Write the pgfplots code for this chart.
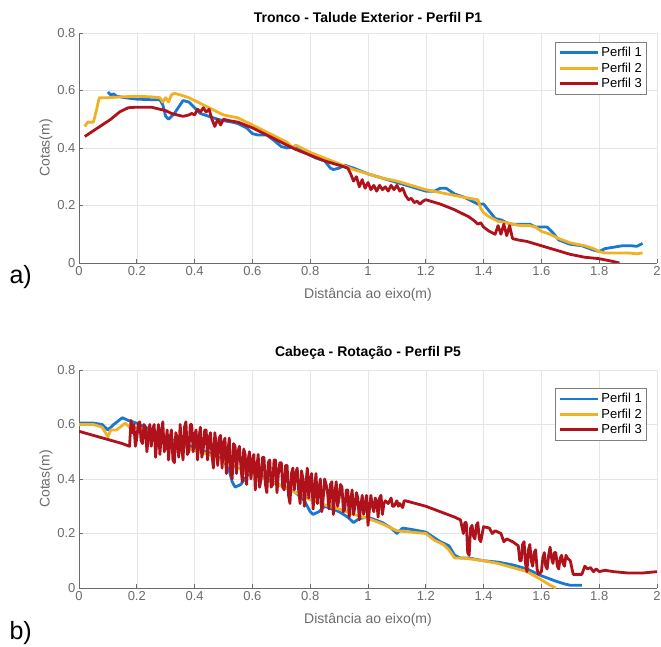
\documentclass[border=0pt]{standalone}
\usepackage{fontspec}
\setmainfont{Liberation Sans}
\usepackage{pgfplots}
\pgfplotsset{compat=1.18}

\definecolor{mblue}{rgb}{0.10,0.47,0.82}
\definecolor{myellow}{rgb}{0.94,0.70,0.14}
\definecolor{mred}{rgb}{0.69,0.07,0.11}
\definecolor{axgray}{gray}{0.42}

\pgfplotsset{
  perfil/.style={
    scale only axis,
    width=578pt,
    xmin=0, xmax=2, ymin=0, ymax=0.8,
    xtick={0,0.2,...,2}, ytick={0,0.2,...,0.8},
    xticklabels={0,0.2,0.4,0.6,0.8,1,1.2,1.4,1.6,1.8,2},
    yticklabels={0,0.2,0.4,0.6,0.8},
    axis x line*=bottom, axis y line*=left,
    axis line style={axgray, line width=0.7pt},
    tick style={axgray, line width=0.7pt},
    tick align=inside, major tick length=4pt,
    grid=major, grid style={black!10, line width=0.6pt},
    ticklabel style={font=\fontsize{13}{15}\selectfont, text=axgray},
    /pgf/number format/assume math mode=true,
    label style={font=\fontsize{14}{16}\selectfont, text=axgray},
    xlabel={Distância ao eixo(m)}, ylabel={Cotas(m)},
    xlabel style={yshift=-6pt}, ylabel style={yshift=-2pt},
    title style={font=\bfseries\fontsize{14}{16}\selectfont, yshift=1pt},
    legend cell align=left,
    legend style={font=\fontsize{13}{15}\selectfont, draw=black!50, line width=0.7pt,
      inner sep=3pt, row sep=0.5pt},
    legend image post style={line width=2.8pt},
    legend image code/.code={\draw[#1] (0pt,0pt) -- (38pt,0pt);},
    every axis plot/.append style={line width=2.8pt, line join=round},
  }
}

\begin{document}
\begin{tikzpicture}[x=1pt,y=1pt]
\useasboundingbox (0,0) rectangle (661,646);

\begin{axis}[perfil, at={(79pt,383pt)}, anchor=origin, height=230pt,
  title={Tronco - Talude Exterior - Perfil P1},
  legend style={at={(0.983,0.961)}, anchor=north east}]
\addplot[mblue] coordinates {
(0.10,0.595) (0.11,0.585) (0.12,0.588) (0.13,0.58) (0.16,0.575) (0.20,0.57)
(0.25,0.568) (0.28,0.568) (0.29,0.55) (0.30,0.51) (0.31,0.50) (0.33,0.52)
(0.35,0.55) (0.36,0.565) (0.38,0.56) (0.40,0.54) (0.42,0.52) (0.45,0.51)
(0.48,0.50) (0.50,0.495) (0.53,0.49) (0.55,0.485) (0.58,0.47) (0.60,0.45)
(0.62,0.445) (0.65,0.445) (0.67,0.43) (0.70,0.405) (0.72,0.40) (0.75,0.405)
(0.78,0.39) (0.80,0.375) (0.82,0.365) (0.85,0.355) (0.87,0.33) (0.88,0.325)
(0.90,0.33) (0.92,0.34) (0.95,0.33) (1.00,0.31) (1.05,0.295) (1.10,0.28)
(1.15,0.265) (1.20,0.25) (1.23,0.25) (1.25,0.26) (1.27,0.26) (1.30,0.24)
(1.33,0.23) (1.36,0.215) (1.38,0.205) (1.40,0.205) (1.42,0.18) (1.44,0.155)
(1.46,0.15) (1.48,0.14) (1.50,0.135) (1.53,0.135) (1.56,0.135) (1.58,0.125)
(1.60,0.125) (1.62,0.125) (1.64,0.105) (1.66,0.08) (1.70,0.065) (1.74,0.06)
(1.78,0.045) (1.80,0.04) (1.82,0.05) (1.85,0.055) (1.88,0.06) (1.91,0.06)
(1.93,0.058) (1.95,0.068)
};
\addlegendentry{Perfil 1}
\addplot[myellow] coordinates {
(0.02,0.475) (0.03,0.49) (0.05,0.49) (0.06,0.53) (0.07,0.575) (0.10,0.575)
(0.15,0.578) (0.20,0.58) (0.25,0.578) (0.28,0.575) (0.29,0.56) (0.30,0.575)
(0.31,0.56) (0.32,0.585) (0.33,0.59) (0.35,0.585) (0.38,0.575) (0.40,0.565)
(0.45,0.54) (0.50,0.515) (0.55,0.505) (0.60,0.48) (0.65,0.455) (0.70,0.43)
(0.72,0.42) (0.74,0.40) (0.75,0.41) (0.80,0.385) (0.85,0.365) (0.90,0.345)
(0.95,0.325) (1.00,0.31) (1.05,0.295) (1.10,0.285) (1.15,0.27) (1.20,0.255)
(1.25,0.245) (1.30,0.235) (1.35,0.225) (1.38,0.22) (1.39,0.19) (1.40,0.175)
(1.42,0.16) (1.45,0.145) (1.48,0.14) (1.50,0.135) (1.53,0.13) (1.56,0.13)
(1.58,0.125) (1.60,0.11) (1.63,0.10) (1.66,0.085) (1.70,0.07) (1.75,0.06)
(1.78,0.05) (1.80,0.04) (1.82,0.035) (1.85,0.035) (1.88,0.035) (1.90,0.035)
(1.93,0.032) (1.95,0.035)
};
\addlegendentry{Perfil 2}
\addplot[mred] coordinates {
(0.02,0.44) (0.05,0.46) (0.08,0.48) (0.11,0.50) (0.14,0.525) (0.17,0.54)
(0.20,0.542) (0.25,0.542) (0.30,0.53) (0.32,0.52) (0.34,0.515) (0.36,0.51)
(0.38,0.515) (0.39,0.52) (0.40,0.515) (0.41,0.535) (0.42,0.525) (0.43,0.54)
(0.44,0.525) (0.45,0.535) (0.46,0.50) (0.47,0.475) (0.48,0.50) (0.49,0.48)
(0.50,0.50) (0.52,0.495) (0.55,0.49) (0.60,0.47) (0.65,0.445) (0.70,0.42)
(0.75,0.395) (0.80,0.375) (0.85,0.355) (0.90,0.34) (0.93,0.33) (0.94,0.31)
(0.95,0.285) (0.96,0.30) (0.97,0.265) (0.98,0.29) (0.99,0.26) (1.00,0.28)
(1.01,0.255) (1.02,0.27) (1.03,0.25) (1.04,0.27) (1.05,0.255) (1.06,0.265)
(1.07,0.25) (1.08,0.27) (1.09,0.255) (1.10,0.27) (1.11,0.25) (1.12,0.26)
(1.13,0.235) (1.14,0.22) (1.15,0.225) (1.16,0.21) (1.17,0.215) (1.18,0.205)
(1.19,0.215) (1.20,0.22) (1.25,0.205) (1.30,0.185) (1.35,0.16) (1.37,0.145)
(1.38,0.135) (1.39,0.14) (1.40,0.125) (1.42,0.11) (1.44,0.10) (1.45,0.13)
(1.46,0.10) (1.47,0.135) (1.48,0.095) (1.49,0.13) (1.50,0.085) (1.52,0.08)
(1.55,0.075) (1.60,0.06) (1.65,0.045) (1.70,0.03) (1.75,0.02) (1.80,0.015)
(1.85,0.005) (1.87,0.0)
};
\addlegendentry{Perfil 3}
\end{axis}

\begin{axis}[perfil, at={(79pt,58pt)}, anchor=origin, height=218pt,
  title={Cabeça - Rotação - Perfil P5},
  legend style={at={(0.983,0.917)}, anchor=north east}]
\addplot[mblue] coordinates {
(0,0.605) (0.05,0.605) (0.08,0.60) (0.10,0.58) (0.12,0.60) (0.15,0.625)
(0.17,0.615) (0.20,0.605) (0.25,0.58) (0.30,0.555) (0.35,0.53) (0.40,0.515)
(0.45,0.495) (0.50,0.47) (0.52,0.43) (0.53,0.39) (0.54,0.37) (0.56,0.38)
(0.58,0.41) (0.60,0.43) (0.65,0.40) (0.70,0.375) (0.75,0.35) (0.78,0.32)
(0.80,0.28) (0.81,0.27) (0.83,0.28) (0.85,0.30) (0.90,0.28) (0.93,0.26)
(0.95,0.24) (0.97,0.255) (1.00,0.26) (1.05,0.24) (1.08,0.22) (1.10,0.20)
(1.12,0.22) (1.15,0.215) (1.20,0.205) (1.25,0.17) (1.28,0.155) (1.30,0.12)
(1.32,0.11) (1.35,0.11) (1.40,0.10) (1.45,0.095) (1.50,0.085) (1.55,0.07)
(1.60,0.045) (1.65,0.025) (1.68,0.015) (1.70,0.01) (1.74,0.01)
};
\addlegendentry{Perfil 1}
\addplot[myellow] coordinates {
(0,0.60) (0.05,0.60) (0.08,0.59) (0.10,0.555) (0.11,0.58) (0.13,0.58)
(0.16,0.605) (0.18,0.585) (0.20,0.59) (0.25,0.57) (0.30,0.545) (0.35,0.525)
(0.40,0.505) (0.45,0.49) (0.50,0.465) (0.55,0.44) (0.60,0.42) (0.65,0.395)
(0.70,0.375) (0.75,0.35) (0.80,0.325) (0.85,0.305) (0.90,0.29) (0.95,0.27)
(1.00,0.255) (1.05,0.235) (1.10,0.21) (1.15,0.205) (1.20,0.20) (1.23,0.175)
(1.26,0.16) (1.28,0.14) (1.30,0.11) (1.33,0.11) (1.40,0.10) (1.45,0.09)
(1.50,0.075) (1.55,0.06) (1.60,0.03) (1.63,0.01) (1.65,0.0)
};
\addlegendentry{Perfil 2}
\addplot[mred] coordinates {
(0,0.575) (0.05,0.56) (0.10,0.545) (0.15,0.53) (0.175,0.52) (0.18,0.615)
(0.185,0.57) (0.19,0.60) (0.195,0.52) (0.20,0.55) (0.205,0.60) (0.21,0.61)
(0.215,0.54) (0.22,0.53) (0.225,0.60) (0.23,0.59) (0.235,0.50) (0.24,0.56)
(0.245,0.60) (0.25,0.52) (0.255,0.58) (0.26,0.60) (0.265,0.48) (0.27,0.55)
(0.275,0.60) (0.28,0.49) (0.285,0.57) (0.29,0.61) (0.295,0.50) (0.30,0.52)
(0.305,0.58) (0.31,0.47) (0.315,0.55) (0.32,0.58) (0.325,0.47) (0.33,0.46)
(0.335,0.57) (0.34,0.55) (0.345,0.48) (0.35,0.60) (0.355,0.52) (0.36,0.47)
(0.365,0.59) (0.37,0.61) (0.375,0.49) (0.38,0.50) (0.385,0.60) (0.39,0.60)
(0.395,0.50) (0.40,0.56) (0.405,0.58) (0.41,0.47) (0.415,0.55) (0.42,0.59)
(0.425,0.48) (0.43,0.51) (0.435,0.58) (0.44,0.58) (0.445,0.47) (0.45,0.55)
(0.455,0.57) (0.46,0.49) (0.465,0.44) (0.47,0.57) (0.475,0.52) (0.48,0.45)
(0.485,0.55) (0.49,0.56) (0.495,0.44) (0.50,0.53) (0.505,0.55) (0.51,0.42)
(0.515,0.50) (0.52,0.55) (0.525,0.43) (0.53,0.40) (0.535,0.53) (0.54,0.52)
(0.545,0.42) (0.55,0.50) (0.555,0.52) (0.56,0.45) (0.565,0.39) (0.57,0.51)
(0.575,0.49) (0.58,0.38) (0.585,0.47) (0.59,0.50) (0.595,0.40) (0.60,0.47)
(0.605,0.49) (0.61,0.36) (0.615,0.44) (0.62,0.49) (0.625,0.37) (0.63,0.40)
(0.635,0.48) (0.64,0.48) (0.645,0.38) (0.65,0.35) (0.655,0.46) (0.66,0.47)
(0.665,0.37) (0.67,0.38) (0.675,0.47) (0.68,0.47) (0.685,0.35) (0.69,0.42)
(0.695,0.46) (0.70,0.46) (0.705,0.37) (0.71,0.36) (0.715,0.45) (0.72,0.45)
(0.725,0.34) (0.73,0.31) (0.735,0.42) (0.74,0.44) (0.745,0.36) (0.75,0.42)
(0.755,0.44) (0.76,0.36) (0.765,0.31) (0.77,0.43) (0.775,0.40) (0.78,0.30)
(0.785,0.38) (0.79,0.44) (0.795,0.33) (0.80,0.40) (0.805,0.42) (0.81,0.29)
(0.815,0.36) (0.82,0.42) (0.825,0.31) (0.83,0.36) (0.835,0.40) (0.84,0.28)
(0.845,0.33) (0.85,0.40) (0.855,0.38) (0.86,0.35) (0.865,0.29) (0.87,0.38)
(0.875,0.39) (0.88,0.27) (0.885,0.34) (0.89,0.39) (0.895,0.30) (0.90,0.33)
(0.905,0.38) (0.91,0.37) (0.915,0.28) (0.92,0.29) (0.925,0.36) (0.93,0.36)
(0.935,0.26) (0.94,0.32) (0.945,0.36) (0.95,0.27) (0.955,0.30) (0.96,0.35)
(0.965,0.33) (0.97,0.25) (0.975,0.30) (0.98,0.34) (0.985,0.27) (0.99,0.31)
(0.995,0.34) (1.00,0.23) (1.005,0.29) (1.01,0.34) (1.015,0.30) (1.02,0.28)
(1.025,0.33) (1.03,0.32) (1.035,0.26) (1.04,0.33) (1.045,0.34) (1.05,0.27)
(1.055,0.31) (1.06,0.32) (1.07,0.31) (1.08,0.33) (1.085,0.30) (1.09,0.30)
(1.10,0.32) (1.105,0.30) (1.11,0.31) (1.12,0.295) (1.125,0.32) (1.13,0.32)
(1.20,0.30) (1.25,0.28) (1.30,0.26) (1.32,0.25) (1.33,0.20) (1.335,0.24)
(1.34,0.24) (1.345,0.13) (1.35,0.12) (1.355,0.22) (1.36,0.23) (1.365,0.19)
(1.37,0.18) (1.375,0.23) (1.38,0.24) (1.385,0.18) (1.39,0.17) (1.40,0.225)
(1.42,0.22) (1.43,0.20) (1.44,0.21) (1.46,0.20) (1.47,0.17) (1.48,0.18)
(1.50,0.17) (1.52,0.155) (1.525,0.10) (1.53,0.10) (1.535,0.16) (1.54,0.17)
(1.545,0.09) (1.55,0.06) (1.555,0.14) (1.56,0.16) (1.565,0.10) (1.57,0.08)
(1.575,0.13) (1.58,0.14) (1.585,0.07) (1.59,0.05) (1.60,0.06) (1.605,0.11)
(1.61,0.13) (1.615,0.08) (1.62,0.07) (1.625,0.12) (1.63,0.15) (1.635,0.11)
(1.64,0.09) (1.645,0.13) (1.65,0.13) (1.655,0.08) (1.66,0.07) (1.665,0.11)
(1.67,0.12) (1.675,0.09) (1.68,0.08) (1.685,0.12) (1.69,0.11) (1.70,0.10)
(1.71,0.05) (1.72,0.05) (1.74,0.05) (1.75,0.08) (1.76,0.07) (1.77,0.075)
(1.78,0.06) (1.79,0.07) (1.80,0.06) (1.82,0.065) (1.85,0.06) (1.90,0.055)
(1.95,0.055) (2.00,0.06)
};
\addlegendentry{Perfil 3}
\end{axis}

\node[anchor=west, font=\fontsize{25}{27}\selectfont] at (6,369) {a)};
\node[anchor=west, font=\fontsize{25}{27}\selectfont] at (6,13) {b)};
\end{tikzpicture}
\end{document}
